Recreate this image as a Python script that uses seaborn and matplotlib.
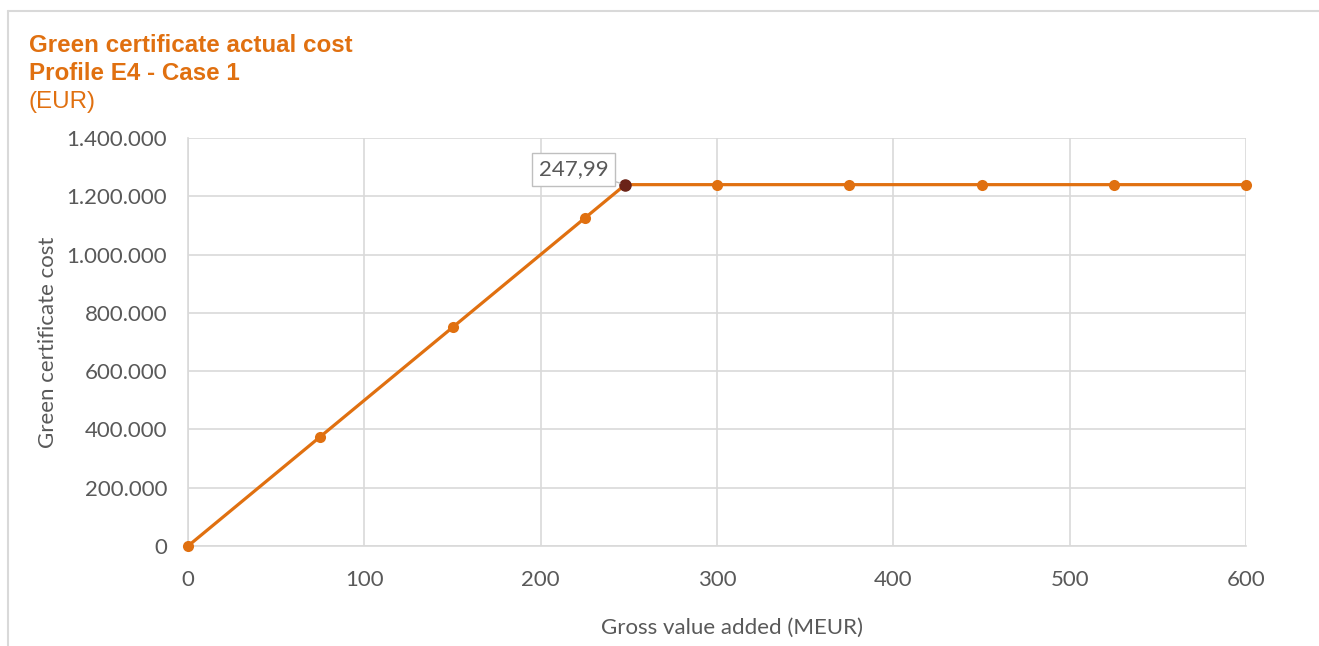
import matplotlib
matplotlib.use("Agg")
import matplotlib.pyplot as plt
import matplotlib.ticker as mticker
import seaborn as sns
import pandas as pd

gva_meur = [0, 75, 150, 225, 247.99, 300, 375, 450, 525, 600]
cost_eur = [0, 375000, 750000, 1125000, 1239950, 1239950, 1239950, 1239950, 1239950, 1239950]
highlight_x = 247.99
highlight_y = 1239950
highlight_label = "247,99"
x_ticks = [0, 100, 200, 300, 400, 500, 600]
y_ticks = [0, 200000, 400000, 600000, 800000, 1000000, 1200000, 1400000]

sns.set_theme(style="white")
plt.rcParams['font.family'] = ['Lato', 'DejaVu Sans']

ORANGE = "#E07010"
GRAY_TXT = "#595959"
GRID = "#D9D9D9"

fig = plt.figure(figsize=(13.19, 6.46), dpi=100)
ax = fig.add_axes([188/1319, 1-546/646, (1246-188)/1319, (546-138)/646])

df = pd.DataFrame({"x": gva_meur, "y": cost_eur})
sns.lineplot(data=df, x="x", y="y", ax=ax, color=ORANGE, linewidth=2.3,
             marker="o", markersize=8, markeredgewidth=0, zorder=3, clip_on=False)
ax.plot([highlight_x], [highlight_y], "o", color="#6B2318", markersize=8, zorder=4, clip_on=False)

ax.set_xlim(0, 600)
ax.set_ylim(0, 1400000)
ax.set_xticks(x_ticks)
ax.set_yticks(y_ticks)
ax.yaxis.set_major_formatter(mticker.FuncFormatter(lambda v, p: f"{int(v):,}".replace(",", ".")))
ax.grid(True, color=GRID, linewidth=1.2)
ax.set_axisbelow(True)
for s in ["top", "right"]:
    ax.spines[s].set_visible(False)
for s in ["left", "bottom"]:
    ax.spines[s].set_color(GRID)
    ax.spines[s].set_linewidth(1.2)
ax.tick_params(axis="both", colors=GRAY_TXT, labelsize=16, length=0)
ax.tick_params(axis="y", pad=15)
ax.tick_params(axis="x", pad=17)
for lab in ax.get_xticklabels() + ax.get_yticklabels():
    lab.set_color(GRAY_TXT)

ax.set_xlabel("Gross value added (MEUR)", fontsize=16, color=GRAY_TXT)
ax.set_ylabel("Green certificate cost", fontsize=16, color=GRAY_TXT)
ax.xaxis.set_label_coords((732-188)/1058, -(628-546)/408)
ax.yaxis.set_label_coords(-(188-48)/1058, (546-342)/408)
ax.xaxis.label.set_va("center")
ax.yaxis.label.set_va("center")

ax.annotate(highlight_label, xy=(highlight_x, highlight_y), xytext=(-37, 11),
            textcoords="offset points", ha="center", va="center", fontsize=16,
            color=GRAY_TXT,
            bbox=dict(boxstyle="square,pad=0.3", fc="white", ec="#BFBFBF", lw=1),
            arrowprops=dict(arrowstyle="-", color="#BFBFBF", lw=1, shrinkA=0, shrinkB=4),
            zorder=5)

title_font = ["Liberation Sans", "DejaVu Sans"]
fig.text(29/1319, 1-46/646, "Green certificate actual cost", fontsize=17.4, fontweight="bold",
         color=ORANGE, va="center", ha="left", family=title_font)
fig.text(29/1319, 1-74/646, "Profile E4 - Case 1", fontsize=17.4, fontweight="bold",
         color=ORANGE, va="center", ha="left", family=title_font)
fig.text(29/1319, 1-102/646, "(EUR)", fontsize=17.4,
         color=ORANGE, va="center", ha="left", family=title_font)

# outer chart frame (top and left edges)
fig.add_artist(plt.Line2D([8/1319, 1], [1-11/646, 1-11/646], color="#D9D9D9", lw=1.5))
fig.add_artist(plt.Line2D([8/1319, 8/1319], [0, 1-11/646], color="#D9D9D9", lw=1.5))

fig.savefig("out.png", dpi=100, facecolor="white")
